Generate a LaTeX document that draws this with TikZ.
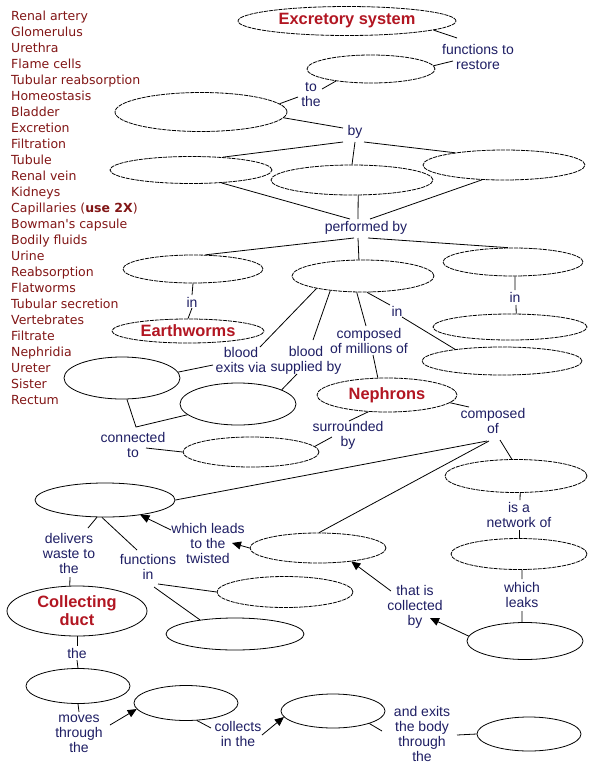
\documentclass[tikz,border=0pt]{standalone}
\usepackage{fontspec}
\newfontfamily\labfont{Liberation Sans}
\newfontfamily\listfont{DejaVu Sans}
\usetikzlibrary{shapes.geometric,arrows.meta,calc}
\definecolor{listred}{RGB}{130,22,22}
\definecolor{titlered}{RGB}{178,22,34}
\definecolor{labblue}{RGB}{30,30,100}
\tikzset{
  ell/.style={ellipse, draw=black, line width=0.8pt, inner sep=0pt},
  dsh/.style={dash pattern=on 4pt off 0.9pt},
  lab/.style={font=\labfont\fontsize{14}{15}\selectfont, text=labblue, align=center, inner sep=0pt},
  ttl/.style={font=\labfont\bfseries\fontsize{16.4}{18}\selectfont, text=titlered, align=center},
  ln/.style={draw=black, line width=0.8pt},
  arr/.style={ln, -{Triangle[length=9pt,width=8pt]}},
  item/.style={font=\listfont\fontsize{12.5}{16}\selectfont, text=listred, anchor=base west, inner sep=0pt},
}
\begin{document}
\begin{tikzpicture}[x=1pt,y=-1pt]
\fill[white] (0,0) rectangle (591,769);
\useasboundingbox (0,0) rectangle (591,769);

% word list
\foreach \t [count=\i from 0] in {Renal artery, Glomerulus, Urethra, Flame cells, Tubular reabsorption, Homeostasis, Bladder, Excretion, Filtration, Tubule, Renal vein, Kidneys, {Capillaries (\textbf{use 2X})}, {Bowman's capsule}, Bodily fluids, Urine, Reabsorption, Flatworms, Tubular secretion, Vertebrates, Filtrate, Nephridia, Ureter, Sister, Rectum}
  \node[item] (w\i) at (11,20+16*\i) {\t};

% ellipses
\node[ell,dsh,ttl,minimum width=218pt,minimum height=29pt] (exc) at (347,21) {Excretory system};
\node[ell,dsh,minimum width=128pt,minimum height=28pt] (e2) at (371,69) {};
\node[ell,dsh,minimum width=172pt,minimum height=39pt] (e3) at (201,112) {};
\node[ell,dsh,minimum width=162pt,minimum height=27pt] (e4) at (191,170) {};
\node[ell,dsh,minimum width=162pt,minimum height=30pt] (e5) at (352,180) {};
\node[ell,dsh,minimum width=162pt,minimum height=30pt] (e6) at (504,165) {};
\node[ell,dsh,minimum width=140pt,minimum height=28pt] (e7) at (193,269) {};
\node[ell,dsh,minimum width=142pt,minimum height=32pt] (e8) at (363,276) {};
\node[ell,dsh,minimum width=140pt,minimum height=28pt] (e9) at (513,262) {};
\node[ell,dsh,ttl,minimum width=152pt,minimum height=24pt] (earth) at (188,331) {Earthworms};
\node[ell,dsh,minimum width=154pt,minimum height=26pt] (e10) at (510,327) {};
\node[ell,dsh,minimum width=160pt,minimum height=28pt] (e11) at (502,361) {};
\node[ell,minimum width=116pt,minimum height=42pt] (e12) at (122,378) {};
\node[ell,minimum width=116pt,minimum height=42pt] (e13) at (238,404) {};
\node[ell,dsh,minimum width=136pt,minimum height=30pt] (e14) at (251,452) {};
\node[ell,dsh,ttl,minimum width=140pt,minimum height=34pt] (neph) at (387,395) {Nephrons};
\node[ell,minimum width=140pt,minimum height=34pt] (e15) at (105,500) {};
\node[ell,dsh,minimum width=142pt,minimum height=33pt] (e16) at (516,476) {};
\node[ell,dsh,minimum width=136pt,minimum height=31pt] (e17) at (519,554) {};
\node[ell,minimum width=116pt,minimum height=37pt] (e21) at (525,641) {};
\node[ell,dsh,minimum width=136pt,minimum height=30pt] (e18) at (318,548) {};
\node[ell,dsh,minimum width=136pt,minimum height=31pt] (e19) at (285,592) {};
\node[ell,minimum width=138pt,minimum height=32pt] (e20) at (235,634) {};
\node[ell,ttl,minimum width=140pt,minimum height=50pt] (duct) at (77,611) {Collecting\\duct};
\node[ell,minimum width=104pt,minimum height=35pt] (e22) at (78,686) {};
\node[ell,minimum width=104pt,minimum height=35pt] (e23) at (186,703) {};
\node[ell,minimum width=104pt,minimum height=34pt] (e24) at (333,711) {};
\node[ell,minimum width=104pt,minimum height=34pt] (e25) at (529,734) {};

% labels
\node[lab] (fto) at (478,57) {functions to\\restore};
\node[lab] (tothe) at (311,95) {to\\the};
\node[lab] (by) at (355,132) {by};
\node[lab] (perf) at (366,228) {performed by};
\node[lab] (in1) at (192,302) {in};
\node[lab] (in2) at (515,297) {in};
\node[lab] (in3) at (397,311) {in};
\node[lab] (comp1) at (369,341) {composed\\of millions of};
\node[lab] (bexit) at (241,360) {blood\\exits via};
\node[lab] (bsup) at (306,360) {blood\\supplied by};
\node[lab] (conn) at (133,445) {connected\\to};
\node[lab] (surr) at (348,435) {surrounded\\by};
\node[lab] (comp2) at (493,421) {composed\\of};
\node[lab] (isa) at (519,515) {is a\\network of};
\node[lab] (leaks) at (522,595) {which\\leaks};
\node[lab] (coll) at (415,607) {that is\\collected\\by};
\node[lab] (lead) at (208,543) {which leads\\to the\\twisted};
\node[lab] (deliv) at (69,553) {delivers\\waste to\\the};
\node[lab] (func) at (148,567) {functions\\in};
\node[lab] (the1) at (77,653) {the};
\node[lab] (moves) at (79,734) {moves\\through\\the};
\node[lab] (collects) at (238,734) {collects\\in the};
\node[lab] (exits) at (422,734) {and exits\\the body\\through\\the};
\coordinate (corner) at (136,427);

% connectors
\draw[ln] (exc.-6) -- ($(fto)+(-21,-19)$);
\draw[ln] ($(fto)+(-25,4)$) -- (e2.3);
\draw[ln] (e2.199) -- ($(tothe)+(11,-6)$);
\draw[ln] ($(tothe)+(-13,2)$) -- (e3.6);
\draw[ln] (e3.-4) -- ($(by)+(-12,-4)$);
\draw[ln] ($(by)+(-12,10)$) -- (e4.22);
\draw[ln] ($(by)+(0,10)$) -- (e5.90);
\draw[ln] ($(by)+(9,10)$) -- (e6.166);
\draw[ln] (e4.-23) -- ($(perf)+(-16,-9)$);
\draw[ln] (e5.-68) -- ($(perf)+(-8,-9)$);
\draw[ln] (e6.214) -- ($(perf)+(4,-9)$);
\draw[ln] ($(perf)+(-12,10)$) -- (e7.49);
\draw[ln] ($(perf)+(-8,10)$) -- (e8.104);
\draw[ln] ($(perf)+(2,10)$) -- (e9.110);
\draw[ln] (e7.-90) -- ($(in1)+(0,-7)$);
\draw[ln] ($(in1)+(0,6)$) -- (earth.90);
\draw[ln] (e9.-82) -- ($(in2)+(0,-7)$);
\draw[ln] ($(in2)+(1,8)$) -- (e10.65);
\draw[ln] (e8.195) -- ($(bexit)+(19,-13)$);
\draw[ln] (e8.204) -- ($(bsup)+(7,-20)$);
\draw[ln] (e8.249) -- ($(comp1)+(-3,-15)$);
\draw[ln] (e8.-76) -- ($(in3)+(-7,-6)$);
\draw[ln] ($(in3)+(5,6)$) -- (e11.166);
\draw[ln] ($(comp1)+(4,14)$) -- (neph.118);
\draw[ln] (e12.6) -- ($(bexit)+(-28,5)$);
\draw[ln] (e13.18) -- ($(bsup)+(-9,14)$);
\draw[ln] (e12.-77) -- (corner) -- (e13.192);
\draw[ln] ($(conn)+(13,3)$) -- (e14.180);
\draw[ln] (neph.222) -- ($(surr)+(1,-14)$);
\draw[ln] ($(surr)+(-16,2)$) -- (e14.5);
\draw[ln] (neph.-7) -- ($(comp2)+(-24,-14)$);
\draw[ln] ($(comp2)+(7,19)$) -- (e16.104);
\draw[ln] ($(comp2)+(-6,20)$) -- (e15.0);
\draw[ln] ($(comp2)+(-4,20)$) -- (e18.86);
\draw[ln] (e16.-76) -- ($(isa)+(1,-15)$);
\draw[ln] ($(isa)+(0,15)$) -- (e17.90);
\draw[ln] (e17.-79) -- ($(leaks)+(0,-16)$);
\draw[ln] ($(leaks)+(0,16)$) -- (e21.99);
\draw[arr] (e21.175) -- ($(coll)+(15,11)$);
\draw[arr] ($(coll)+(-24,-16)$) -- (e18.-22);
\draw[arr] (e18.180) -- ($(lead)+(24,0)$);
\draw[arr] ($(lead)+(-37,-13)$) -- (e15.-23);
\draw[ln] (e15.245) -- ($(deliv)+(19,-25)$);
\draw[ln] (e15.260) -- ($(func)+(-11,-17)$);
\draw[ln] ($(deliv)+(1,24)$) -- (duct.106);
\draw[ln] ($(func)+(10,17)$) -- (e19.180);
\draw[ln] ($(func)+(6,20)$) -- (e20.158);
\draw[ln] (duct.-90) -- ($(the1)+(0,-7)$);
\draw[ln] ($(the1)+(0,7)$) -- (e22.90);
\draw[ln] (e22.-90) -- ($(moves)+(0,-22)$);
\draw[arr] ($(moves)+(31,-9)$) -- (e23.187);
\draw[ln] (e23.-58) -- ($(collects)+(-27,-6)$);
\draw[arr] ($(collects)+(24,1)$) -- (e24.187);
\draw[ln] (e24.-19) -- ($(exits)+(-40,-3)$);
\draw[ln] ($(exits)+(35,1)$) -- (e25.180);
\end{tikzpicture}
\end{document}
